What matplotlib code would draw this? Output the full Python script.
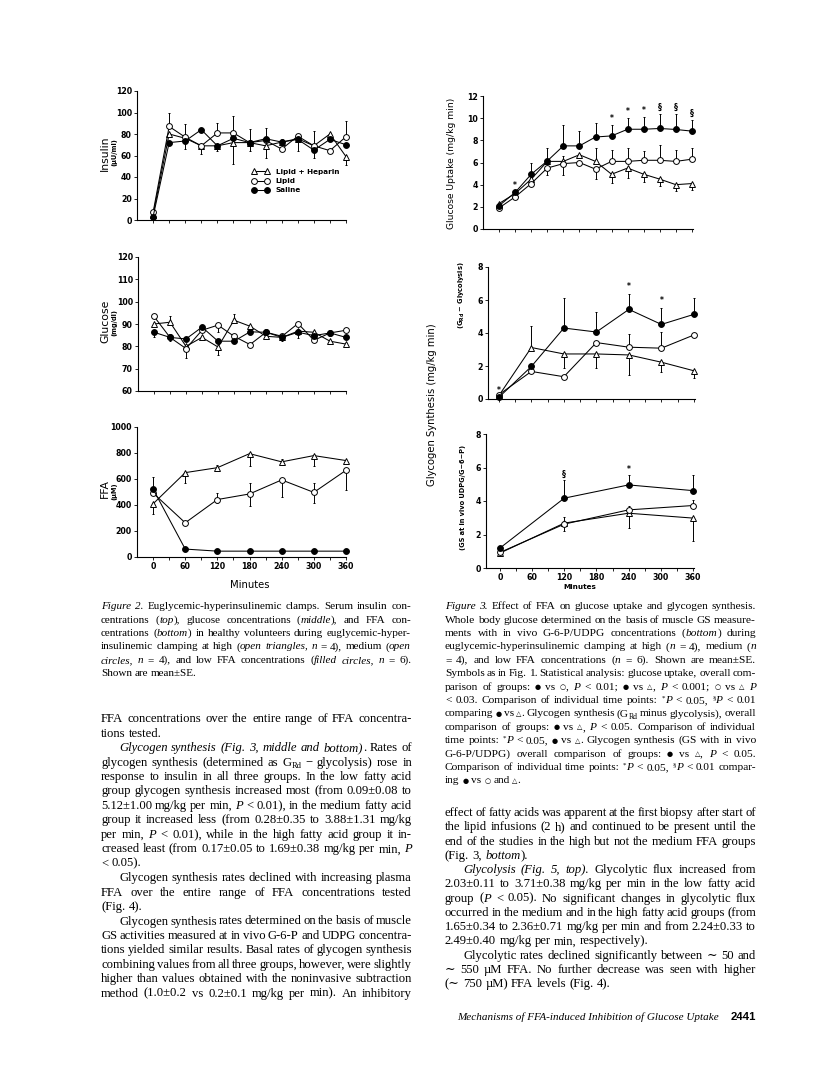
import numpy as np
import matplotlib
matplotlib.use('Agg')
import matplotlib.pyplot as plt

# ---- data ----
t30 = [0, 30, 60, 90, 120, 150, 180, 210, 240, 270, 300, 330, 360]
t60 = [0, 60, 120, 180, 240, 300, 360]
t120 = [0, 120, 240, 360]

# Fig 2 top: insulin (uU/ml)
ins_hep = [5, 80, 76, 69, 69, 72, 72, 69, 72.5, 75.6, 69, 80, 59]
ins_lip = [7, 87, 77, 69, 81, 81, 72, 74, 66, 78, 69, 64.5, 77.5]
ins_sal = [3, 72, 73.5, 84, 69, 76, 72, 75.6, 72.5, 75, 65, 75, 70]
ins_hep_lo = [0, 0, 0, 8, 0, 20, 0, 11, 0, 0, 0, 0, 8]
ins_hep_hi = [0, 0, 0, 0, 0, 0, 0, 0, 0, 0, 0, 0, 0]
ins_lip_lo = [0, 0, 0, 0, 0, 0, 0, 0, 0, 0, 0, 0, 0]
ins_lip_hi = [0, 13, 12, 0, 9, 16, 0, 0, 0, 0, 14, 0, 15]
ins_sal_lo = [3, 0, 7, 0, 5, 0, 8, 0, 0, 11, 7, 0, 0]
ins_sal_hi = [0, 0, 0, 0, 0, 0, 13, 10, 3, 0, 0, 0, 0]

# Fig 2 middle: glucose (mg/dl)
glu_hep = [90, 90.8, 80, 84, 79.7, 91.7, 89, 84.5, 84, 86.8, 86.3, 82.3, 81]
glu_lip = [93.4, 84, 79, 87.2, 89.5, 84.5, 80.8, 86.3, 84.5, 90.2, 82.7, 86, 87.2]
glu_sal = [86.3, 84, 83.3, 88.6, 82.3, 82.3, 86.5, 86.3, 84, 86.3, 84.8, 86, 84]
glu_hep_lo = [0, 0, 0, 0, 3.5, 0, 0, 0, 0, 0, 0, 0, 0]
glu_hep_hi = [0, 3, 0, 0, 0, 2.6, 0, 0, 0, 0, 0, 0, 0]
glu_lip_lo = [0, 0, 4, 0, 3, 0, 0, 0, 0, 0, 0, 0, 0]
glu_lip_hi = [0, 0, 0, 0, 0, 0, 0, 0, 0, 0, 0, 0, 0]
glu_sal_lo = [2, 1.5, 0, 0, 0, 0, 0, 0, 1.5, 2.5, 0, 0, 0]
glu_sal_hi = [0, 0, 0, 0, 0, 0, 0, 0, 0, 0, 0, 0, 0]

# Fig 2 bottom: FFA (uM)
ffa_hep = [409, 649, 687, 795, 732, 780, 742]
ffa_lip = [492, 263, 442, 485, 593, 497, 667]
ffa_sal = [523, 61, 45, 45, 45, 45, 45]
ffa_hep_lo = [76, 83, 0, 95, 0, 80, 0]
ffa_hep_hi = [0, 0, 20, 0, 20, 0, 0]
ffa_lip_lo = [0, 0, 25, 89, 133, 80, 149]
ffa_lip_hi = [0, 0, 48, 83, 0, 70, 0]
ffa_sal_lo = [0, 0, 0, 0, 0, 0, 0]
ffa_sal_hi = [93, 0, 0, 0, 0, 0, 0]

# Fig 3 top: glucose uptake (mg/kg min)
up_hep = [2.3, 3.2, 4.5, 6.1, 6.1, 6.7, 6.1, 4.94, 5.5, 4.94, 4.5, 4.0, 4.1]
up_lip = [1.9, 2.9, 4.1, 5.5, 5.9, 6.0, 5.4, 6.1, 6.1, 6.2, 6.2, 6.1, 6.3]
up_sal = [2.1, 3.3, 4.94, 6.14, 7.5, 7.5, 8.3, 8.4, 9.0, 9.0, 9.07, 8.98, 8.83]
up_hep_lo = [0, 0, 0, 0, 0, 0, 0, 0.8, 0.9, 0.7, 0.6, 0.6, 0.6]
up_hep_hi = [0, 0.3, 0, 0, 0.5, 0, 1.2, 0, 0, 0, 0, 0, 0]
up_lip_lo = [0, 0, 0, 0.6, 1.0, 0, 0.9, 0, 0, 0, 0, 0, 0]
up_lip_hi = [0, 0, 0, 0, 0, 0, 0, 1.0, 1.2, 0.8, 1.4, 1.0, 1.0]
up_sal_lo = [0, 0, 0, 0, 0, 0, 0, 0, 0, 0, 0, 0, 0]
up_sal_hi = [0, 0, 1.0, 1.2, 1.9, 1.3, 1.3, 1.0, 1.0, 1.1, 1.3, 1.4, 1.0]
up_marks = ['', '*', '', '', '', '', '', '*', '*', '*', '\u00a7', '\u00a7', '\u00a7']

# Fig 3 middle: glycogen synthesis (GRd - glycolysis)
gs_hep = [0.2, 3.12, 2.73, 2.73, 2.67, 2.23, 1.71]
gs_lip = [0.26, 1.67, 1.35, 3.42, 3.14, 3.08, 3.88]
gs_sal = [0.1, 1.97, 4.3, 4.06, 5.43, 4.52, 5.13]
gs_hep_lo = [0, 0, 0.85, 0.86, 1.2, 0.6, 0.44]
gs_hep_hi = [0, 1.3, 0, 0, 0, 0, 0]
gs_lip_lo = [0, 0, 0, 0, 0, 0, 0]
gs_lip_hi = [0, 0, 0, 0, 0.8, 1.0, 0]
gs_sal_lo = [0, 0.3, 0, 0, 0, 0, 0]
gs_sal_hi = [0, 0, 1.8, 1.2, 0.96, 1.0, 1.0]
gs_marks = ['*', '', '', '', '*', '*', '']

# Fig 3 bottom: glycogen synthesis (GS at in vivo UDPG/G-6-P)
gsv_hep = [0.89, 2.68, 3.27, 2.98]
gsv_lip = [0.93, 2.62, 3.47, 3.73]
gsv_sal = [1.19, 4.17, 4.96, 4.62]
gsv_hep_lo = [0, 0.5, 0.89, 1.35]
gsv_hep_hi = [0, 0, 0, 0]
gsv_lip_lo = [0, 0, 0, 0]
gsv_lip_hi = [0, 0.45, 0.25, 0.3]
gsv_sal_lo = [0, 0, 0, 0]
gsv_sal_hi = [0, 1.1, 0.6, 0.94]
gsv_marks = ['', '\u00a7', '*', '']

W, H = 816, 1074
fig = plt.figure(figsize=(W / 100, H / 100), dpi=100)
fig.patch.set_facecolor('white')
rend = fig.canvas.get_renderer()

SANS = ['DejaVu Sans']
SERIF = ['Liberation Serif', 'DejaVu Serif', 'DejaVu Sans']


def panel(l, t, r, b, xlim, ylim, yticks):
    ax = fig.add_axes([l / W, 1 - b / H, (r - l) / W, (b - t) / H])
    ax.spines['top'].set_visible(False)
    ax.spines['right'].set_visible(False)
    ax.spines['left'].set_linewidth(0.8)
    ax.spines['bottom'].set_linewidth(0.8)
    ax.patch.set_alpha(0)
    ax.set_xlim(xlim)
    ax.set_ylim(ylim)
    ax.set_yticks(yticks)
    ax.tick_params(length=2.2, width=0.6, labelsize=5.7, pad=1.5)
    ax.tick_params(which='minor', length=2.2, width=0.6)
    return ax


def bold_ticks(ax):
    for lb in ax.get_xticklabels() + ax.get_yticklabels():
        lb.set_fontweight('bold')
        lb.set_family(SANS)


def draw(ax, x, y, lo, hi, kind):
    if kind == 'hep':
        kw = dict(marker='^', mfc='white', ms=4.3)
    elif kind == 'lip':
        kw = dict(marker='o', mfc='white', ms=4.2)
    else:
        kw = dict(marker='o', mfc='black', ms=4.2)
    return ax.errorbar(x, y, yerr=[lo, hi], color='black', lw=0.75, elinewidth=0.7,
                       capsize=1.0, capthick=0.6, mec='black', mew=0.7,
                       clip_on=False, **kw)


def marks(ax, x, y, hi, labels, off):
    for xi, yi, hv, m in zip(x, y, hi, labels):
        if m:
            ax.text(xi, yi + hv + off, m, ha='center', va='center',
                    fontsize=5.5, fontweight='bold', family=SANS)


# ---------------- Figure 2 ----------------
ax1 = panel(137, 91, 346, 220, (-30, 360), (0, 120), [0, 20, 40, 60, 80, 100, 120])
h1 = draw(ax1, t30, ins_hep, ins_hep_lo, ins_hep_hi, 'hep')
h2 = draw(ax1, t30, ins_lip, ins_lip_lo, ins_lip_hi, 'lip')
h3 = draw(ax1, t30, ins_sal, ins_sal_lo, ins_sal_hi, 'sal')
ax1.set_xticks(t30)
ax1.set_xticklabels([])
bold_ticks(ax1)
ax1.legend([h1[0], h2[0], h3[0]], ['Lipid + Heparin', 'Lipid', 'Saline'],
           numpoints=2, frameon=False, loc='upper left', bbox_to_anchor=(0.535, 0.42),
           borderaxespad=0, handlelength=2.4, handletextpad=0.9, labelspacing=0.45,
           prop=dict(size=5.2, weight='bold', family=SANS))

ax2 = panel(138, 257, 346, 391, (-30, 360), (60, 120), [60, 70, 80, 90, 100, 110, 120])
draw(ax2, t30, glu_hep, glu_hep_lo, glu_hep_hi, 'hep')
draw(ax2, t30, glu_lip, glu_lip_lo, glu_lip_hi, 'lip')
draw(ax2, t30, glu_sal, glu_sal_lo, glu_sal_hi, 'sal')
ax2.set_xticks(t30)
ax2.set_xticklabels([])
bold_ticks(ax2)

ax3 = panel(137, 427, 346, 557, (-30, 360), (0, 1000), [0, 200, 400, 600, 800, 1000])
draw(ax3, t60, ffa_hep, ffa_hep_lo, ffa_hep_hi, 'hep')
draw(ax3, t60, ffa_lip, ffa_lip_lo, ffa_lip_hi, 'lip')
draw(ax3, t60, ffa_sal, ffa_sal_lo, ffa_sal_hi, 'sal')
ax3.set_xticks(t60)
ax3.set_xticks(t30, minor=True)
bold_ticks(ax3)

fig.text(105 / W, 1 - 153 / H, 'Insulin', rotation=90, ha='center', va='center', fontsize=7.8, family=SANS)
fig.text(114 / W, 1 - 152 / H, '(\u00b5U/ml)', rotation=90, ha='center', va='center', fontsize=4.8, fontweight='bold', family=SANS)
fig.text(105 / W, 1 - 321 / H, 'Glucose', rotation=90, ha='center', va='center', fontsize=7.8, family=SANS)
fig.text(114 / W, 1 - 322 / H, '(mg/dl)', rotation=90, ha='center', va='center', fontsize=4.8, fontweight='bold', family=SANS)
fig.text(105 / W, 1 - 489 / H, 'FFA', rotation=90, ha='center', va='center', fontsize=7.8, family=SANS)
fig.text(114 / W, 1 - 491 / H, '(\u00b5M)', rotation=90, ha='center', va='center', fontsize=4.8, fontweight='bold', family=SANS)
fig.text(250 / W, 1 - 585 / H, 'Minutes', ha='center', va='center', fontsize=7.2, family=SANS)

# ---------------- Figure 3 ----------------
ax4 = panel(483, 96, 693, 229, (-30, 362), (0, 12), [0, 2, 4, 6, 8, 10, 12])
draw(ax4, t30, up_hep, up_hep_lo, up_hep_hi, 'hep')
draw(ax4, t30, up_lip, up_lip_lo, up_lip_hi, 'lip')
draw(ax4, t30, up_sal, up_sal_lo, up_sal_hi, 'sal')
marks(ax4, t30, up_sal, up_sal_hi, up_marks, 0.6)
ax4.set_xticks(t30)
ax4.set_xticklabels([])
bold_ticks(ax4)

ax5 = panel(488, 267, 695, 399, (-20, 362), (0, 8), [0, 2, 4, 6, 8])
draw(ax5, t60, gs_hep, gs_hep_lo, gs_hep_hi, 'hep')
draw(ax5, t60, gs_lip, gs_lip_lo, gs_lip_hi, 'lip')
draw(ax5, t60, gs_sal, gs_sal_lo, gs_sal_hi, 'sal')
marks(ax5, t60, gs_sal, gs_sal_hi, gs_marks, 0.42)
ax5.set_xticks(t30)
ax5.set_xticklabels([])
bold_ticks(ax5)

ax6 = panel(486, 434, 694, 568, (-26, 362), (0, 8), [0, 2, 4, 6, 8])
draw(ax6, t120, gsv_hep, gsv_hep_lo, gsv_hep_hi, 'hep')
draw(ax6, t120, gsv_lip, gsv_lip_lo, gsv_lip_hi, 'lip')
draw(ax6, t120, gsv_sal, gsv_sal_lo, gsv_sal_hi, 'sal')
marks(ax6, t120, gsv_sal, gsv_sal_hi, gsv_marks, 0.35)
ax6.set_xticks(t60)
ax6.set_xticks(t30, minor=True)
bold_ticks(ax6)

fig.text(452 / W, 1 - 163 / H, 'Glucose Uptake (mg/kg min)', rotation=90, ha='center', va='center', fontsize=6.6, family=SANS)
fig.text(432 / W, 1 - 405 / H, 'Glycogen Synthesis (mg/kg min)', rotation=90, ha='center', va='center', fontsize=7.2, family=SANS)
fig.text(462 / W, 1 - 295 / H, '(G$_{\\mathbf{Rd}}$ \u2212 Glycolysis)', rotation=90, ha='center', va='center', fontsize=4.8, fontweight='bold', family=SANS)
fig.text(463 / W, 1 - 497 / H, '(GS at in vivo UDPG/G\u22126\u2212P)', rotation=90, ha='center', va='center', fontsize=4.8, fontweight='bold', family=SANS)
fig.text(580 / W, 1 - 587 / H, 'Minutes', ha='center', va='center', fontsize=5.2, fontweight='bold', family=SANS)

# ---------------- page text ----------------
STY = {
    'r': dict(family=SERIF),
    'i': dict(family=SERIF, style='italic'),
    'y': dict(family=['DejaVu Sans'], scale=0.62, dy=0.4),
    'sub': dict(family=SERIF, scale=0.68, dy=-2.2),
    'sup': dict(family=SERIF, scale=0.62, dy=3.4),
}


def split_words(runs):
    words = []
    new_word = True
    for s, key in runs:
        parts = s.split(' ')
        for k, p in enumerate(parts):
            if k > 0:
                new_word = True
            if p == '':
                continue
            if new_word or not words:
                words.append([])
                new_word = False
            words[-1].append((p, key))
    return words


def make_text(p, key, size, y):
    st = STY[key]
    kw = dict(family=st['family'])
    if 'style' in st:
        kw['style'] = st['style']
    t = fig.text(0, 1 - (y - st.get('dy', 0)) / H, p, fontsize=size * st.get('scale', 1.0),
                 va='baseline', ha='left', **kw)
    return t, t.get_window_extent(rend).width


def space_w(size):
    return size * 100 / 72 * 0.25


def natural_width(runs, size, indent):
    words = split_words(runs)
    total = 0.0
    for w in words:
        for p, key in w:
            t, wd = make_text(p, key, size, 0)
            total += wd
            t.remove()
    return total + (len(words) - 1) * space_w(size) + indent


def put_line(x0, x1, y, runs, size, justify=True, indent=0):
    items = []
    total = 0.0
    for w in split_words(runs):
        row = []
        ww = 0.0
        for p, key in w:
            t, wd = make_text(p, key, size, y)
            row.append((t, wd))
            ww += wd
        items.append((row, ww))
        total += ww
    avail = x1 - x0 - indent
    if justify and len(items) > 1:
        gap = max(1.0, (avail - total) / (len(items) - 1))
    else:
        gap = space_w(size)
    x = x0 + indent
    for row, ww in items:
        for t, wd in row:
            t.set_x(x / W)
            x += wd
        x += gap


def put_block(x0, x1, y0, dy, lines, size):
    # scale the font so that justified lines get ordinary word spacing
    ratios = [(x1 - x0) / natural_width(r, size, ind) for r, j, ind in lines if j]
    size = size * float(np.median(ratios)) * 0.985
    for k, (runs, just, ind) in enumerate(lines):
        put_line(x0, x1, y0 + k * dy + 3.2, runs, size, just, ind)


def R(s):
    return (s, 'r')


def I(s):
    return (s, 'i')


FC, OC, OT = ('\u25cf', 'y'), ('\u25cb', 'y'), ('\u25b3', 'y')
J, L = True, False
IND = 18

cap2 = [
    ([I('Figure 2.'), R(' Euglycemic-hyperinsulinemic clamps. Serum insulin con-')], J, 0),
    ([R('centrations ('), I('top'), R('), glucose concentrations ('), I('middle'), R('), and FFA con-')], J, 0),
    ([R('centrations ('), I('bottom'), R(') in healthy volunteers during euglycemic-hyper-')], J, 0),
    ([R('insulinemic clamping at high ('), I('open triangles, n'), R(' = 4), medium ('), I('open')], J, 0),
    ([I('circles, n'), R(' = 4), and low FFA concentrations ('), I('filled circles, n'), R(' = 6).')], J, 0),
    ([R('Shown are mean\u00b1SE.')], L, 0),
]
put_block(101, 411, 606, 13.4, cap2, 6.9)

body_l = [
    ([R('FFA concentrations over the entire range of FFA concentra-')], J, 0),
    ([R('tions tested.')], L, 0),
    ([I('Glycogen synthesis (Fig. 3, middle and bottom)'), R('. Rates of')], J, IND),
    ([R('glycogen synthesis (determined as G'), ('Rd', 'sub'), R(' \u2212 glycolysis) rose in')], J, 0),
    ([R('response to insulin in all three groups. In the low fatty acid')], J, 0),
    ([R('group glycogen synthesis increased most (from 0.09\u00b10.08 to')], J, 0),
    ([R('5.12\u00b11.00 mg/kg per min, '), I('P'), R(' < 0.01), in the medium fatty acid')], J, 0),
    ([R('group it increased less (from 0.28\u00b10.35 to 3.88\u00b11.31 mg/kg')], J, 0),
    ([R('per min, '), I('P'), R(' < 0.01), while in the high fatty acid group it in-')], J, 0),
    ([R('creased least (from 0.17\u00b10.05 to 1.69\u00b10.38 mg/kg per min, '), I('P')], J, 0),
    ([R('< 0.05).')], L, 0),
    ([R('Glycogen synthesis rates declined with increasing plasma')], J, IND),
    ([R('FFA over the entire range of FFA concentrations tested')], J, 0),
    ([R('(Fig. 4).')], L, 0),
    ([R('Glycogen synthesis rates determined on the basis of muscle')], J, IND),
    ([R('GS activities measured at in vivo G-6-P and UDPG concentra-')], J, 0),
    ([R('tions yielded similar results. Basal rates of glycogen synthesis')], J, 0),
    ([R('combining values from all three groups, however, were slightly')], J, 0),
    ([R('higher than values obtained with the noninvasive subtraction')], J, 0),
    ([R('method (1.0\u00b10.2 vs 0.2\u00b10.1 mg/kg per min). An inhibitory')], J, 0),
]
put_block(101, 412, 719, 14.45, body_l, 7.5)

cap3 = [
    ([I('Figure 3.'), R(' Effect of FFA on glucose uptake and glycogen synthesis.')], J, 0),
    ([R('Whole body glucose determined on the basis of muscle GS measure-')], J, 0),
    ([R('ments with in vivo G-6-P/UDPG concentrations ('), I('bottom'), R(') during')], J, 0),
    ([R('euglycemic-hyperinsulinemic clamping at high ('), I('n'), R(' = 4), medium ('), I('n')], J, 0),
    ([R('= 4), and low FFA concentrations ('), I('n'), R(' = 6). Shown are mean\u00b1SE.')], J, 0),
    ([R('Symbols as in Fig. 1. Statistical analysis: glucose uptake, overall com-')], J, 0),
    ([R('parison of groups: '), FC, R(' vs '), OC, R(', '), I('P'), R(' < 0.01; '), FC, R(' vs '), OT,
      R(', '), I('P'), R(' < 0.001; '), OC, R(' vs '), OT, R(' '), I('P')], J, 0),
    ([R('< 0.03. Comparison of individual time points: '), ('*', 'sup'), I('P'), R(' < 0.05, '),
      ('\u00a7', 'sup'), I('P'), R(' < 0.01')], J, 0),
    ([R('comparing '), FC, R(' vs '), OT, R('. Glycogen synthesis (G'), ('Rd', 'sub'),
      R(' minus glycolysis), overall')], J, 0),
    ([R('comparison of groups: '), FC, R(' vs '), OT, R(', '), I('P'), R(' < 0.05. Comparison of individual')], J, 0),
    ([R('time points: '), ('*', 'sup'), I('P'), R(' < 0.05, '), FC, R(' vs '), OT,
      R('. Glycogen synthesis (GS with in vivo')], J, 0),
    ([R('G-6-P/UDPG) overall comparison of groups: '), FC, R(' vs '), OT, R(', '), I('P'), R(' < 0.05.')], J, 0),
    ([R('Comparison of individual time points: '), ('*', 'sup'), I('P'), R(' < 0.05, '),
      ('\u00a7', 'sup'), I('P'), R(' < 0.01 compar-')], J, 0),
    ([R('ing '), FC, R(' vs '), OC, R(' and '), OT, R('.')], L, 0),
]
put_block(445, 756, 606, 13.4, cap3, 6.9)

body_r = [
    ([R('effect of fatty acids was apparent at the first biopsy after start of')], J, 0),
    ([R('the lipid infusions (2 h) and continued to be present until the')], J, 0),
    ([R('end of the studies in the high but not the medium FFA groups')], J, 0),
    ([R('(Fig. 3, '), I('bottom'), R(').')], L, 0),
    ([I('Glycolysis (Fig. 5, top).'), R(' Glycolytic flux increased from')], J, IND),
    ([R('2.03\u00b10.11 to 3.71\u00b10.38 mg/kg per min in the low fatty acid')], J, 0),
    ([R('group ('), I('P'), R(' < 0.05). No significant changes in glycolytic flux')], J, 0),
    ([R('occurred in the medium and in the high fatty acid groups (from')], J, 0),
    ([R('1.65\u00b10.34 to 2.36\u00b10.71 mg/kg per min and from 2.24\u00b10.33 to')], J, 0),
    ([R('2.49\u00b10.40 mg/kg per min, respectively).')], L, 0),
    ([R('Glycolytic rates declined significantly between \u223c 50 and')], J, IND),
    ([R('\u223c 550 \u00b5M FFA. No further decrease was seen with higher')], J, 0),
    ([R('(\u223c 750 \u00b5M) FFA levels (Fig. 4).')], L, 0),
]
put_block(445, 756, 813, 14.25, body_r, 7.5)

fig.text(457 / W, 1 - 1020 / H, 'Mechanisms of FFA-induced Inhibition of Glucose Uptake',
         fontsize=8.0, style='italic', family=SERIF, va='baseline')
fig.text(756 / W, 1 - 1020 / H, '2441', fontsize=8.2, fontweight='bold', family=['Liberation Sans'],
         va='baseline', ha='right')

fig.savefig('out.png', dpi=100, facecolor='white')
